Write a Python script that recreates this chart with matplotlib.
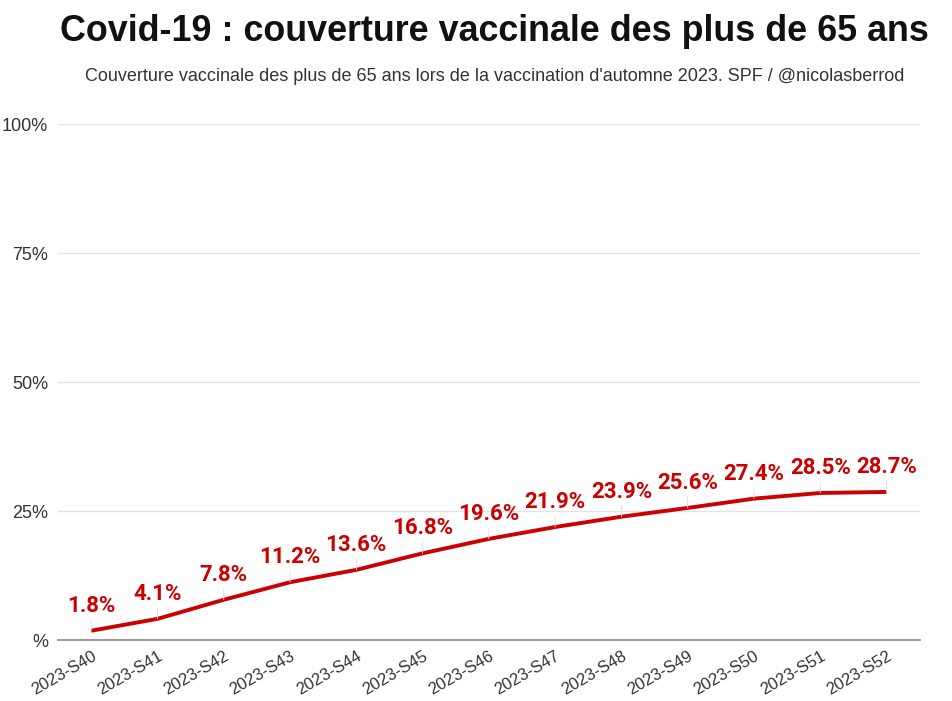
import matplotlib
matplotlib.use('Agg')
import matplotlib.pyplot as plt

weeks = ['2023-S40', '2023-S41', '2023-S42', '2023-S43', '2023-S44', '2023-S45', '2023-S46',
         '2023-S47', '2023-S48', '2023-S49', '2023-S50', '2023-S51', '2023-S52']
coverage = [1.8, 4.1, 7.8, 11.2, 13.6, 16.8, 19.6, 21.9, 23.9, 25.6, 27.4, 28.5, 28.7]
yticks = [0, 25, 50, 75, 100]
ytick_labels = ['%', '25%', '50%', '75%', '100%']

red = '#cc0000'

fig = plt.figure(figsize=(9.52, 7.01), dpi=100)
ax = fig.add_axes([0.061, 0.087, 0.905, 0.736])

x = range(len(weeks))
ax.plot(x, coverage, color=red, linewidth=2.8, solid_capstyle='butt', zorder=3)

# value labels with faint leader lines
for i, v in zip(x, coverage):
    ax.annotate(f'{v}%', xy=(i, v), xytext=(0, 10), textcoords='offset points',
                ha='center', va='bottom', fontsize=16, fontweight='bold',
                family='Roboto', color=red,
                arrowprops=dict(arrowstyle='-', color='#dddddd', lw=0.6,
                                shrinkA=0, shrinkB=0))

ax.set_xlim(-0.5, len(weeks) - 0.5)
ax.set_ylim(0, 100)
ax.set_yticks(yticks)
ax.set_yticklabels(ytick_labels)
ax.set_xticks(list(x))
ax.set_xticklabels(weeks, rotation=30, ha='right', rotation_mode='anchor')

ax.grid(axis='y', color='#e3e3e3', linewidth=1)
ax.set_axisbelow(True)
for s in ['top', 'right', 'left']:
    ax.spines[s].set_visible(False)
ax.spines['bottom'].set_color('#888888')
ax.spines['bottom'].set_linewidth(1.2)
ax.tick_params(axis='both', length=0, labelsize=12, labelcolor='#333333',
               labelfontfamily='Liberation Sans')
ax.tick_params(axis='y', labelsize=13, pad=7)
ax.tick_params(axis='x', pad=6)

fig.text(0.519, 0.955, 'Covid-19 : couverture vaccinale des plus de 65 ans',
         ha='center', va='center', fontsize=25.8, fontweight='bold',
         family='Liberation Sans', color='#111111')
fig.text(0.52, 0.891, "Couverture vaccinale des plus de 65 ans lors de la vaccination d'automne 2023. SPF / @nicolasberrod",
         ha='center', va='center', fontsize=13, family='Liberation Sans', color='#333333')

fig.savefig('out.png', dpi=100)
